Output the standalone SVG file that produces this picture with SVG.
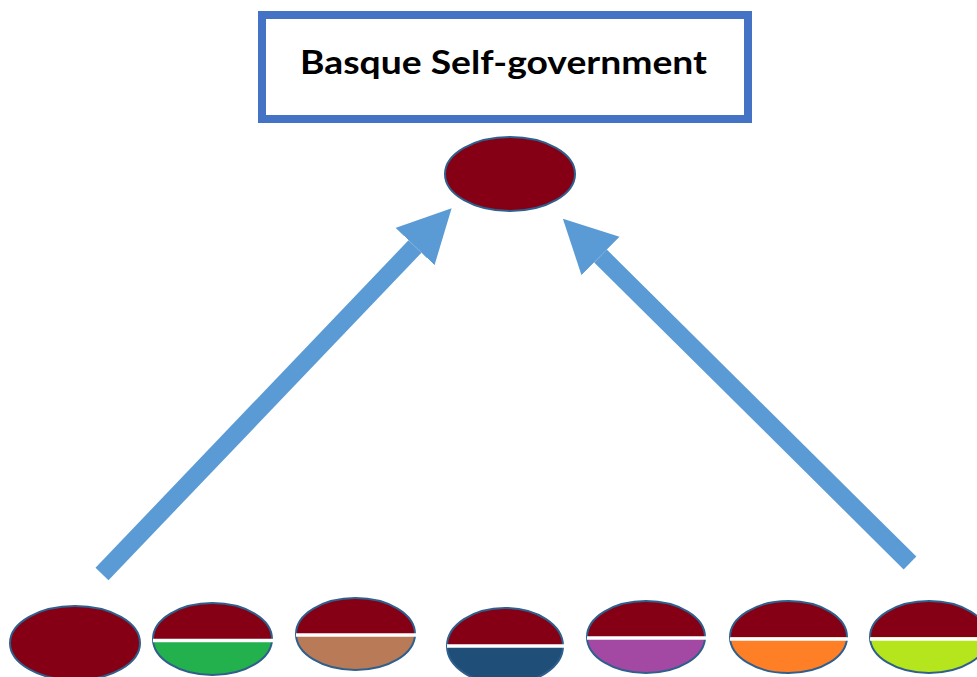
<svg xmlns="http://www.w3.org/2000/svg" width="977" height="677" viewBox="0 0 977 677">
  <style>
    .title-box { fill: #ffffff; stroke: #4472C4; stroke-width: 8; }
    .title { font-family: "Lato", "Open Sans", "Liberation Sans", sans-serif; font-weight: 700; font-size: 33px; fill: #000000; }
    .outline { fill: none; stroke: #2F5F8C; stroke-width: 2; }
    .red { fill: #850014; }
    .split { stroke: #ffffff; stroke-width: 3.5; }
    .arrow { stroke: #5B9BD5; stroke-width: 18; fill: none; }
  </style>
  <defs>
    <marker id="head" markerUnits="userSpaceOnUse" markerWidth="54" markerHeight="56" refX="0" refY="27" orient="auto">
      <path d="M0,0 L53,27 L0,54 Z" fill="#5B9BD5"/>
    </marker>
  </defs>

  <rect width="977" height="677" fill="#ffffff"/>

  <g id="title">
    <rect class="title-box" x="262" y="15" width="486" height="104"/>
    <text class="title" x="503.5" y="74" text-anchor="middle" textLength="407" lengthAdjust="spacingAndGlyphs">Basque Self-government</text>
  </g>

  <g id="top-node" transform="translate(510,174)">
    <ellipse class="red" rx="65" ry="37"/>
    <ellipse class="outline" rx="65" ry="37"/>
  </g>

  <g id="connectors">
    <line class="arrow" x1="102" y1="574" x2="415" y2="246.5" marker-end="url(#head)"/>
    <line class="arrow" x1="910" y1="563" x2="600.5" y2="256" marker-end="url(#head)"/>
  </g>

  <g id="node-1" transform="translate(75,643)">
    <ellipse class="red" rx="65" ry="37"/>
    <ellipse class="outline" rx="65" ry="37"/>
  </g>

  <g id="node-2" transform="translate(212.5,639)">
    <ellipse rx="59.5" ry="36" fill="#22B14C"/>
    <path class="red" d="M-59.5,0 A59.5,36 0 0 1 59.5,0 Z"/>
    <ellipse class="outline" rx="59.5" ry="36"/>
    <line class="split" x1="-59.5" y1="1.5" x2="61" y2="1.5"/>
  </g>

  <g id="node-3" transform="translate(355.5,634)">
    <ellipse rx="59.5" ry="36" fill="#B97A57"/>
    <path class="red" d="M-59.5,0 A59.5,36 0 0 1 59.5,0 Z"/>
    <ellipse class="outline" rx="59.5" ry="36"/>
    <line class="split" x1="-59.5" y1="1" x2="61" y2="1"/>
  </g>

  <g id="node-4" transform="translate(505,646)">
    <ellipse rx="58" ry="38" fill="#1F4E79"/>
    <path class="red" d="M-58,0 A58,38 0 0 1 58,0 Z"/>
    <ellipse class="outline" rx="58" ry="38"/>
    <line class="split" x1="-58" y1="0" x2="60" y2="0"/>
  </g>

  <g id="node-5" transform="translate(646,637)">
    <ellipse rx="59" ry="36" fill="#A349A4"/>
    <path class="red" d="M-59,0 A59,36 0 0 1 59,0 Z"/>
    <ellipse class="outline" rx="59" ry="36"/>
    <line class="split" x1="-59" y1="1" x2="61" y2="1"/>
  </g>

  <g id="node-6" transform="translate(788.5,637)">
    <ellipse rx="58.5" ry="36" fill="#FF7F27"/>
    <path class="red" d="M-58.5,0 A58.5,36 0 0 1 58.5,0 Z"/>
    <ellipse class="outline" rx="58.5" ry="36"/>
    <line class="split" x1="-58.5" y1="2" x2="60" y2="2"/>
  </g>

  <g id="node-7" transform="translate(929,637)">
    <ellipse rx="59" ry="36" fill="#B5E61D"/>
    <path class="red" d="M-59,0 A59,36 0 0 1 59,0 Z"/>
    <ellipse class="outline" rx="59" ry="36"/>
    <line class="split" x1="-59" y1="2" x2="61" y2="2"/>
  </g>
</svg>
